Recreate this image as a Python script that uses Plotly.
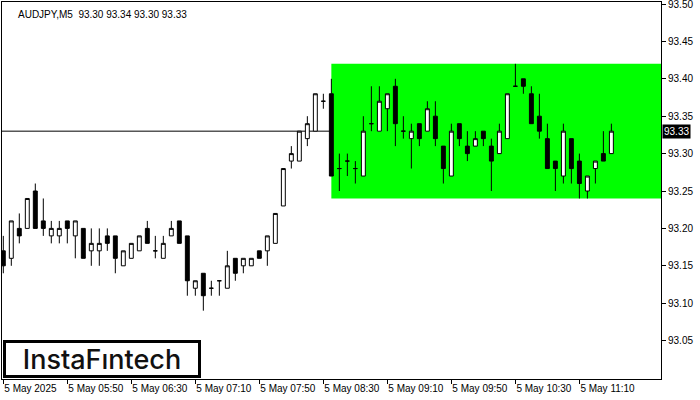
import plotly.graph_objects as go
import pandas as pd

start_time = "2025-05-05 05:10"
opens  = [93.17,93.16,93.20,93.20,93.25,93.21,93.19,93.19,93.21,93.19,93.20,93.17,93.17,93.19,93.19,93.15,93.16,93.17,93.20,93.17,
          93.16,93.19,93.21,93.19,93.12,93.14,93.12,93.13,93.12,93.16,93.15,93.15,93.17,93.17,93.18,93.23,93.29,93.29,93.32,93.33,
          93.37,93.38,93.28,93.29,93.28,93.27,93.34,93.33,93.36,93.39,93.33,93.32,93.34,93.33,93.35,93.31,93.27,93.34,93.31,93.31,
          93.33,93.31,93.30,93.32,93.39,93.40,93.38,93.35,93.32,93.29,93.27,93.32,93.29,93.25,93.28,93.30,93.30]
highs  = [93.19,93.21,93.22,93.24,93.26,93.24,93.21,93.21,93.21,93.21,93.20,93.20,93.20,93.20,93.19,93.17,93.18,93.19,93.21,93.19,
          93.19,93.21,93.21,93.19,93.13,93.14,93.13,93.13,93.17,93.16,93.16,93.16,93.17,93.19,93.22,93.28,93.31,93.33,93.35,93.38,
          93.38,93.40,93.30,93.30,93.29,93.35,93.39,93.39,93.38,93.40,93.35,93.34,93.34,93.37,93.37,93.31,93.34,93.34,93.33,93.33,
          93.33,93.32,93.34,93.38,93.42,93.40,93.39,93.38,93.34,93.29,93.34,93.32,93.30,93.27,93.29,93.33,93.34]
lows   = [93.14,93.15,93.18,93.20,93.20,93.19,93.18,93.18,93.18,93.16,93.16,93.15,93.15,93.17,93.14,93.15,93.16,93.17,93.18,93.16,
          93.16,93.19,93.18,93.11,93.11,93.09,93.11,93.11,93.12,93.13,93.14,93.15,93.16,93.15,93.18,93.23,93.28,93.29,93.31,93.33,
          93.36,93.27,93.25,93.27,93.26,93.27,93.33,93.33,93.33,93.31,93.32,93.28,93.31,93.33,93.31,93.26,93.27,93.31,93.29,93.31,
          93.31,93.25,93.30,93.32,93.39,93.38,93.34,93.32,93.28,93.25,93.26,93.26,93.24,93.24,93.26,93.29,93.30]
closes = [93.15,93.21,93.19,93.24,93.20,93.20,93.20,93.20,93.20,93.21,93.16,93.18,93.18,93.18,93.16,93.17,93.18,93.19,93.18,93.17,
          93.18,93.20,93.18,93.13,93.13,93.11,93.12,93.13,93.15,93.14,93.16,93.16,93.16,93.19,93.22,93.28,93.30,93.33,93.34,93.38,
          93.37,93.27,93.28,93.29,93.28,93.33,93.34,93.37,93.38,93.34,93.33,93.33,93.32,93.36,93.32,93.28,93.33,93.32,93.30,93.32,
          93.32,93.29,93.33,93.38,93.39,93.39,93.34,93.33,93.28,93.28,93.33,93.28,93.26,93.27,93.29,93.29,93.33]

tick_labels = ["5 May 2025", "5 May 05:50", "5 May 06:30", "5 May 07:10", "5 May 07:50",
               "5 May 08:30", "5 May 09:10", "5 May 09:50", "5 May 10:30", "5 May 11:10"]
tick_times = ["2025-05-05 05:10", "2025-05-05 05:50", "2025-05-05 06:30", "2025-05-05 07:10", "2025-05-05 07:50",
              "2025-05-05 08:30", "2025-05-05 09:10", "2025-05-05 09:50", "2025-05-05 10:30", "2025-05-05 11:10"]
y_ticks = [93.05, 93.10, 93.15, 93.20, 93.25, 93.30, 93.35, 93.40, 93.45, 93.50]

current_price = 93.33
zone_low, zone_high = 93.24, 93.42
zone_start = "2025-05-05 08:35"
header = "AUDJPY,M5\u00a0\u00a093.30 93.34 93.30 93.33"

times = pd.date_range(start_time, periods=len(opens), freq="5min")
t0 = pd.Timestamp(start_time)
x_lo = t0 + pd.Timedelta(minutes=-0.1625 * 5)
x_hi = t0 + pd.Timedelta(minutes=82.2 * 5)

fig = go.Figure()
fig.add_trace(go.Candlestick(
    x=times, open=opens, high=highs, low=lows, close=closes,
    increasing=dict(line=dict(color="black", width=1), fillcolor="white"),
    decreasing=dict(line=dict(color="black", width=1), fillcolor="black"),
    whiskerwidth=0, showlegend=False, hoverinfo="skip",
))

fig.add_shape(type="rect", xref="x", yref="y", x0=zone_start, x1=x_hi, y0=zone_low, y1=zone_high,
              fillcolor="#00FF00", line=dict(width=0), layer="below")
fig.add_shape(type="line", xref="paper", yref="y", x0=0, x1=1, y0=current_price, y1=current_price,
              line=dict(color="black", width=1), layer="below")

fig.add_annotation(xref="paper", yref="y", x=1, y=current_price, xanchor="left", yanchor="middle",
                   text=f"{current_price:.2f}", showarrow=False, bgcolor="black",
                   font=dict(family="Liberation Sans", size=10, color="white"), borderpad=1, xshift=1)
fig.add_annotation(xref="paper", yref="paper", x=0, y=1, xanchor="left", yanchor="top",
                   text=header, showarrow=False, xshift=14, yshift=-5,
                   font=dict(family="Liberation Sans", size=10, color="black"))
fig.add_annotation(xref="paper", yref="paper", x=0, y=0, xanchor="left", yanchor="bottom",
                   text="InstaF\u0131ntech", showarrow=False, xshift=1, yshift=1,
                   width=192, height=32, bgcolor="white", bordercolor="black", borderwidth=3, borderpad=0,
                   font=dict(family="Inter", size=27, color="#111111", weight=500))

fig.update_layout(
    width=700, height=400, margin=dict(l=2, r=39, t=2, b=21, autoexpand=False),
    paper_bgcolor="white", plot_bgcolor="white",
    xaxis=dict(range=[x_lo, x_hi], rangeslider=dict(visible=False), showgrid=False, zeroline=False,
               tickvals=tick_times, ticktext=tick_labels, ticks="outside", ticklen=4, tickcolor="black",
               ticklabelposition="outside right", tickangle=0, automargin=False,
               showline=True, linecolor="black", linewidth=1, mirror=True,
               tickfont=dict(family="Liberation Sans", size=10, color="black")),
    yaxis=dict(range=[92.99866, 93.50267], side="right", showgrid=False, zeroline=False, automargin=False,
               tickvals=y_ticks, ticktext=[f"{v:.2f}" for v in y_ticks], ticks="outside", ticklen=4,
               tickcolor="black", showline=True, linecolor="black", linewidth=1, mirror=True,
               ticklabeloverflow="allow",
               tickfont=dict(family="Liberation Sans", size=10, color="black")),
    font=dict(family="Liberation Sans"),
)

fig.write_html("out.html", config={"displayModeBar": False},
               post_script="document.body.style.margin='0px';")
